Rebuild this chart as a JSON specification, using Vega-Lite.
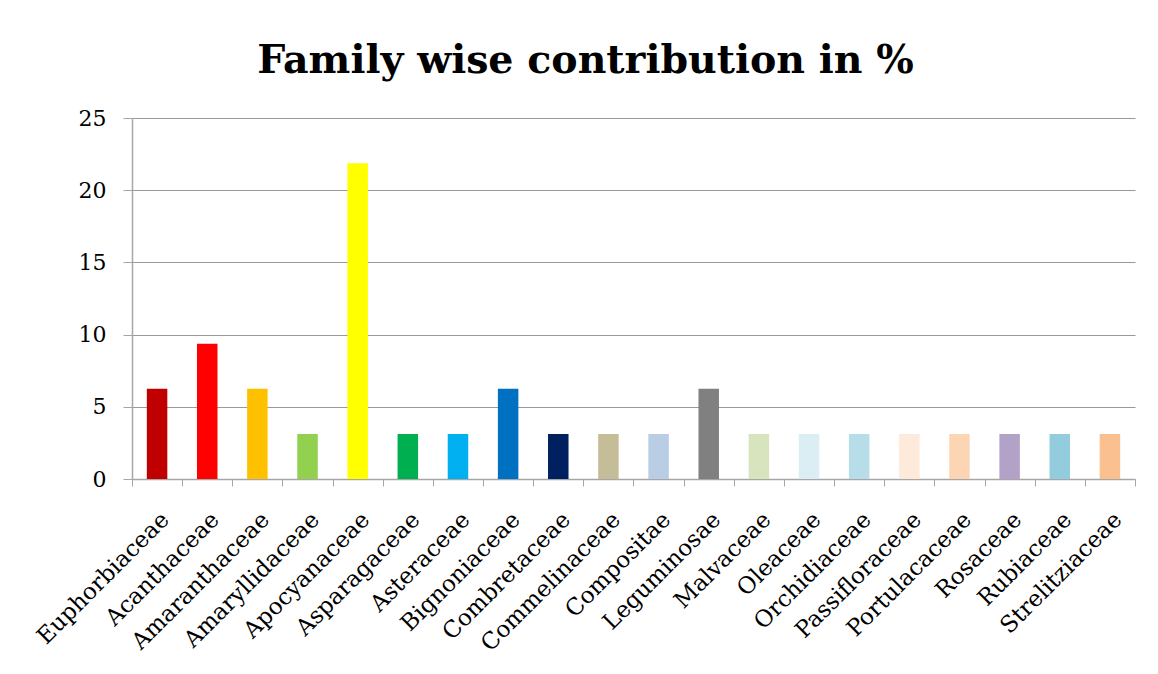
{
  "$schema": "https://vega.github.io/schema/vega-lite/v6.json",
  "width": 1003,
  "height": 361,
  "autosize": {"type": "none"},
  "padding": {"left": 132, "top": 118, "right": 23, "bottom": 195},
  "background": "white",
  "title": {
    "text": "Family wise contribution in %",
    "font": "DejaVu Serif",
    "fontSize": 39.5,
    "fontWeight": "bold",
    "color": "black",
    "anchor": "middle",
    "frame": "group",
    "dx": -48,
    "dy": 47,
    "baseline": "alphabetic",
    "offset": 42
  },
  "data": {
    "values": [
      {"family": "Euphorbiaceae", "pct": 6.25, "color": "#C00000"},
      {"family": "Acanthaceae", "pct": 9.375, "color": "#FF0000"},
      {"family": "Amaranthaceae", "pct": 6.25, "color": "#FFC000"},
      {"family": "Amaryllidaceae", "pct": 3.125, "color": "#92D050"},
      {"family": "Apocyanaceae", "pct": 21.875, "color": "#FFFF00"},
      {"family": "Asparagaceae", "pct": 3.125, "color": "#00B050"},
      {"family": "Asteraceae", "pct": 3.125, "color": "#00B0F0"},
      {"family": "Bignoniaceae", "pct": 6.25, "color": "#0070C0"},
      {"family": "Combretaceae", "pct": 3.125, "color": "#002060"},
      {"family": "Commelinaceae", "pct": 3.125, "color": "#C4BD97"},
      {"family": "Compositae", "pct": 3.125, "color": "#B9CDE5"},
      {"family": "Leguminosae", "pct": 6.25, "color": "#808080"},
      {"family": "Malvaceae", "pct": 3.125, "color": "#D7E4BD"},
      {"family": "Oleaceae", "pct": 3.125, "color": "#DBEEF4"},
      {"family": "Orchidiaceae", "pct": 3.125, "color": "#B7DEE8"},
      {"family": "Passifloraceae", "pct": 3.125, "color": "#FDEADA"},
      {"family": "Portulacaceae", "pct": 3.125, "color": "#FCD5B5"},
      {"family": "Rosaceae", "pct": 3.125, "color": "#B3A2C7"},
      {"family": "Rubiaceae", "pct": 3.125, "color": "#93CDDD"},
      {"family": "Strelitziaceae", "pct": 3.125, "color": "#FAC090"}
    ]
  },
  "mark": {"type": "bar", "width": 20.5},
  "encoding": {
    "x": {
      "field": "family",
      "type": "nominal",
      "sort": null,
      "title": null,
      "scale": {"paddingInner": 0, "paddingOuter": 0},
      "axis": {
        "labelAngle": -45,
        "labelFont": "DejaVu Serif",
        "labelFontSize": 23,
        "labelColor": "black",
        "labelPadding": 22,
        "labelLimit": 0,
        "tickBand": "extent",
        "tickSize": 7,
        "tickColor": "#a6a6a6",
        "domainColor": "#a6a6a6",
        "domainWidth": 1.5,
        "grid": false
      }
    },
    "y": {
      "field": "pct",
      "type": "quantitative",
      "title": null,
      "scale": {"domain": [0, 25], "nice": false},
      "axis": {
        "values": [0, 5, 10, 15, 20, 25],
        "labelFont": "DejaVu Serif",
        "labelFontSize": 22,
        "labelColor": "black",
        "labelPadding": 17,
        "tickSize": 9,
        "tickColor": "#a6a6a6",
        "domainColor": "#a6a6a6",
        "domainWidth": 1.5,
        "gridColor": "#999999",
        "gridWidth": 1.2,
        "gridOpacity": 1
      }
    },
    "color": {"field": "color", "type": "nominal", "scale": null, "legend": null}
  },
  "config": {"view": {"stroke": null}}
}
